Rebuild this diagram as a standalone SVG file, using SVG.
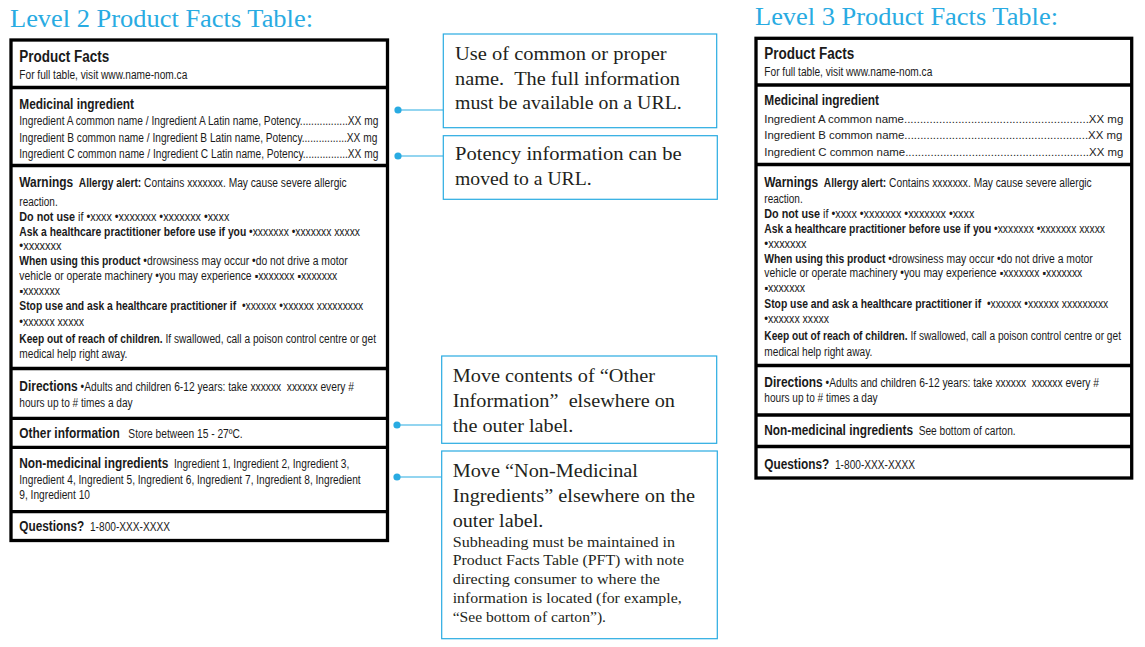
<svg xmlns="http://www.w3.org/2000/svg" width="1145" height="647" viewBox="0 0 1145 647">
  <style>
    .t { font-family: "Liberation Sans", Arial, sans-serif; font-size: 12px; fill: #1a1a1a; }
    .h { font-weight: bold; font-size: 14px; }
    .b { font-weight: bold; }
    .pf { font-weight: bold; font-size: 16px; }
    .ld { font-size: 11.5px; }
    .c { font-family: "Liberation Serif", "Times New Roman", serif; font-size: 19.5px; fill: #231f20; }
    .s { font-size: 15px; }
    .title { font-family: "Liberation Serif", "Times New Roman", serif; font-size: 26px; fill: #29abe2; }
    .frame { fill: #fff; stroke: #000; stroke-width: 3.3; }
    .rule { stroke: #000; stroke-width: 3.3; }
    .box { fill: #fff; stroke: #29abe2; stroke-width: 1.2; }
    .lead { stroke: #29abe2; stroke-width: 1.2; }
    .dot { fill: #29abe2; }
  </style>

  <rect width="1145" height="647" fill="#fff"/>

  <!-- Headings -->
  <text id="title-level2" class="title" x="10" y="26.7" textLength="303" lengthAdjust="spacingAndGlyphs">Level 2 Product Facts Table:</text>
  <text id="title-level3" class="title" x="755" y="25" textLength="303" lengthAdjust="spacingAndGlyphs">Level 3 Product Facts Table:</text>

  <!-- Level 2 product facts table -->
  <g id="table-level2">
    <rect class="frame" x="11" y="40" width="376.5" height="500.5"/>
    <line class="rule" x1="11" y1="87.5" x2="387.5" y2="87.5"/>
    <line class="rule" x1="11" y1="165.5" x2="387.5" y2="165.5"/>
    <line class="rule" x1="11" y1="368.5" x2="387.5" y2="368.5"/>
    <line class="rule" x1="11" y1="418.3" x2="387.5" y2="418.3"/>
    <line class="rule" x1="11" y1="447.3" x2="387.5" y2="447.3"/>
    <line class="rule" x1="11" y1="511.7" x2="387.5" y2="511.7"/>

    <g id="l2-header">
      <text class="t pf" x="19.3" y="61.7" textLength="90" lengthAdjust="spacingAndGlyphs">Product Facts</text>
      <text class="t" x="19.3" y="79" textLength="168" lengthAdjust="spacingAndGlyphs">For full table, visit www.name-nom.ca</text>
    </g>
    <g id="l2-medicinal">
      <text class="t h" x="19.3" y="109" textLength="114.7" lengthAdjust="spacingAndGlyphs">Medicinal ingredient</text>
      <text class="t" x="19.3" y="125" textLength="359" lengthAdjust="spacingAndGlyphs">Ingredient A common name / Ingredient A Latin name, Potency.................XX mg</text>
      <text class="t" x="19.3" y="141.7" textLength="358" lengthAdjust="spacingAndGlyphs">Ingredient B common name / Ingredient B Latin name, Potency................XX mg</text>
      <text class="t" x="19.3" y="158.3" textLength="359" lengthAdjust="spacingAndGlyphs">Ingredient C common name / Ingredient C Latin name, Potency................XX mg</text>
    </g>
    <g id="l2-warnings">
      <text class="t" x="19.3" y="187.3" textLength="327.4" lengthAdjust="spacingAndGlyphs"><tspan class="h">Warnings</tspan> &#160;<tspan class="b">Allergy alert:</tspan> Contains xxxxxxx. May cause severe allergic</text>
      <text class="t" x="19.3" y="205.7" textLength="38.4" lengthAdjust="spacingAndGlyphs">reaction.</text>
      <text class="t" x="19.3" y="221" textLength="210" lengthAdjust="spacingAndGlyphs"><tspan class="b">Do not use</tspan> if •xxxx •xxxxxxx •xxxxxxx •xxxx</text>
      <text class="t" x="19.3" y="236" textLength="340.7" lengthAdjust="spacingAndGlyphs"><tspan class="b">Ask a healthcare practitioner before use if you</tspan> •xxxxxxx •xxxxxxx xxxxx</text>
      <text class="t" x="19.3" y="250" textLength="42.3" lengthAdjust="spacingAndGlyphs">•xxxxxxx</text>
      <text class="t" x="19.3" y="265" textLength="328.4" lengthAdjust="spacingAndGlyphs"><tspan class="b">When using this product</tspan> •drowsiness may occur •do not drive a motor</text>
      <text class="t" x="19.3" y="280" textLength="318" lengthAdjust="spacingAndGlyphs">vehicle or operate machinery •you may experience ▪xxxxxxx ▪xxxxxxx</text>
      <text class="t" x="19.3" y="295" textLength="40.7" lengthAdjust="spacingAndGlyphs">▪xxxxxxx</text>
      <text class="t" x="19.3" y="310" textLength="344" lengthAdjust="spacingAndGlyphs"><tspan class="b">Stop use and ask a healthcare practitioner if</tspan> &#160;•xxxxxx •xxxxxx xxxxxxxxx</text>
      <text class="t" x="19.3" y="326" textLength="64.7" lengthAdjust="spacingAndGlyphs">•xxxxxx xxxxx</text>
      <text class="t" x="19.3" y="343.3" textLength="356.7" lengthAdjust="spacingAndGlyphs"><tspan class="b">Keep out of reach of children.</tspan> If swallowed, call a poison control centre or get</text>
      <text class="t" x="19.3" y="358.3" textLength="108" lengthAdjust="spacingAndGlyphs">medical help right away.</text>
    </g>
    <g id="l2-directions">
      <text class="t" x="19.3" y="390.7" textLength="334.7" lengthAdjust="spacingAndGlyphs"><tspan class="h">Directions</tspan> •Adults and children 6-12 years: take xxxxxx &#160;xxxxxx every #</text>
      <text class="t" x="19.3" y="407.3" textLength="113.3" lengthAdjust="spacingAndGlyphs">hours up to # times a day</text>
    </g>
    <g id="l2-other">
      <text class="t" x="19.3" y="437.7" textLength="223.4" lengthAdjust="spacingAndGlyphs"><tspan class="h">Other information</tspan> &#160;&#160;Store between 15 - 27ºC.</text>
    </g>
    <g id="l2-nonmedicinal">
      <text class="t" x="19.3" y="468.3" textLength="330" lengthAdjust="spacingAndGlyphs"><tspan class="h">Non-medicinal ingredients</tspan> &#160;Ingredient 1, Ingredient 2, Ingredient 3,</text>
      <text class="t" x="19.3" y="484" textLength="341.4" lengthAdjust="spacingAndGlyphs">Ingredient 4, Ingredient 5, Ingredient 6, Ingredient 7, Ingredient 8, Ingredient</text>
      <text class="t" x="19.3" y="499.3" textLength="70.7" lengthAdjust="spacingAndGlyphs">9, Ingredient 10</text>
    </g>
    <g id="l2-questions">
      <text class="t" x="19.3" y="530.7" textLength="150.7" lengthAdjust="spacingAndGlyphs"><tspan class="h">Questions?</tspan> &#160;1-800-XXX-XXXX</text>
    </g>
  </g>

  <!-- Level 3 product facts table -->
  <g id="table-level3">
    <rect class="frame" x="756" y="38.3" width="375.7" height="439.7"/>
    <line class="rule" x1="756" y1="85" x2="1131.7" y2="85"/>
    <line class="rule" x1="756" y1="164.5" x2="1131.7" y2="164.5"/>
    <line class="rule" x1="756" y1="365.5" x2="1131.7" y2="365.5"/>
    <line class="rule" x1="756" y1="415" x2="1131.7" y2="415"/>
    <line class="rule" x1="756" y1="446.5" x2="1131.7" y2="446.5"/>

    <g id="l3-header">
      <text class="t pf" x="764.3" y="59.3" textLength="90" lengthAdjust="spacingAndGlyphs">Product Facts</text>
      <text class="t" x="764.3" y="76" textLength="168" lengthAdjust="spacingAndGlyphs">For full table, visit www.name-nom.ca</text>
    </g>
    <g id="l3-medicinal">
      <text class="t h" x="764.3" y="105" textLength="114.7" lengthAdjust="spacingAndGlyphs">Medicinal ingredient</text>
      <text class="t ld" x="764.3" y="122.7" textLength="359" lengthAdjust="spacingAndGlyphs">Ingredient A common name..........................................................XX mg</text>
      <text class="t ld" x="764.3" y="139.3" textLength="358" lengthAdjust="spacingAndGlyphs">Ingredient B common name..........................................................XX mg</text>
      <text class="t ld" x="764.3" y="155.7" textLength="359" lengthAdjust="spacingAndGlyphs">Ingredient C common name..........................................................XX mg</text>
    </g>
    <g id="l3-warnings">
      <text class="t" x="764.3" y="186.7" textLength="327.4" lengthAdjust="spacingAndGlyphs"><tspan class="h">Warnings</tspan> &#160;<tspan class="b">Allergy alert:</tspan> Contains xxxxxxx. May cause severe allergic</text>
      <text class="t" x="764.3" y="203.3" textLength="38.4" lengthAdjust="spacingAndGlyphs">reaction.</text>
      <text class="t" x="764.3" y="218.3" textLength="210" lengthAdjust="spacingAndGlyphs"><tspan class="b">Do not use</tspan> if •xxxx •xxxxxxx •xxxxxxx •xxxx</text>
      <text class="t" x="764.3" y="233.3" textLength="340.7" lengthAdjust="spacingAndGlyphs"><tspan class="b">Ask a healthcare practitioner before use if you</tspan> •xxxxxxx •xxxxxxx xxxxx</text>
      <text class="t" x="764.3" y="247.7" textLength="42.3" lengthAdjust="spacingAndGlyphs">•xxxxxxx</text>
      <text class="t" x="764.3" y="262.7" textLength="328.4" lengthAdjust="spacingAndGlyphs"><tspan class="b">When using this product</tspan> •drowsiness may occur •do not drive a motor</text>
      <text class="t" x="764.3" y="277.3" textLength="318" lengthAdjust="spacingAndGlyphs">vehicle or operate machinery •you may experience ▪xxxxxxx ▪xxxxxxx</text>
      <text class="t" x="764.3" y="291.7" textLength="40.7" lengthAdjust="spacingAndGlyphs">▪xxxxxxx</text>
      <text class="t" x="764.3" y="307.7" textLength="344" lengthAdjust="spacingAndGlyphs"><tspan class="b">Stop use and ask a healthcare practitioner if</tspan> &#160;•xxxxxx •xxxxxx xxxxxxxxx</text>
      <text class="t" x="764.3" y="323.3" textLength="64.7" lengthAdjust="spacingAndGlyphs">•xxxxxx xxxxx</text>
      <text class="t" x="764.3" y="340" textLength="356.7" lengthAdjust="spacingAndGlyphs"><tspan class="b">Keep out of reach of children.</tspan> If swallowed, call a poison control centre or get</text>
      <text class="t" x="764.3" y="356" textLength="108" lengthAdjust="spacingAndGlyphs">medical help right away.</text>
    </g>
    <g id="l3-directions">
      <text class="t" x="764.3" y="386.7" textLength="334.7" lengthAdjust="spacingAndGlyphs"><tspan class="h">Directions</tspan> •Adults and children 6-12 years: take xxxxxx &#160;xxxxxx every #</text>
      <text class="t" x="764.3" y="402.3" textLength="113.3" lengthAdjust="spacingAndGlyphs">hours up to # times a day</text>
    </g>
    <g id="l3-nonmedicinal">
      <text class="t" x="764.3" y="435" textLength="251.4" lengthAdjust="spacingAndGlyphs"><tspan class="h">Non-medicinal ingredients</tspan> &#160;See bottom of carton.</text>
    </g>
    <g id="l3-questions">
      <text class="t" x="764.3" y="469" textLength="150.7" lengthAdjust="spacingAndGlyphs"><tspan class="h">Questions?</tspan> &#160;1-800-XXX-XXXX</text>
    </g>
  </g>

  <!-- Leader lines from table rows to the notes -->
  <g id="connectors">
    <line class="lead" x1="398" y1="110" x2="443.3" y2="110"/>
    <circle class="dot" cx="398" cy="110" r="3.6"/>
    <line class="lead" x1="398" y1="156" x2="443.3" y2="156"/>
    <circle class="dot" cx="398" cy="156" r="3.6"/>
    <line class="lead" x1="397" y1="425" x2="441.7" y2="425"/>
    <circle class="dot" cx="397" cy="425" r="3.6"/>
    <line class="lead" x1="397" y1="477" x2="441.7" y2="477"/>
    <circle class="dot" cx="397" cy="477" r="3.6"/>
  </g>

  <!-- Notes -->
  <g id="note-common-name">
    <rect class="box" x="443.3" y="34" width="273.4" height="93.7"/>
    <text class="c" x="455" y="60" textLength="211.7" lengthAdjust="spacingAndGlyphs">Use of common or proper</text>
    <text class="c" x="455" y="84.5" textLength="225" lengthAdjust="spacingAndGlyphs">name. &#160;The full information</text>
    <text class="c" x="455" y="109" textLength="226.7" lengthAdjust="spacingAndGlyphs">must be available on a URL.</text>
  </g>
  <g id="note-potency">
    <rect class="box" x="443.3" y="135.7" width="274" height="63.6"/>
    <text class="c" x="455" y="160" textLength="226.7" lengthAdjust="spacingAndGlyphs">Potency information can be</text>
    <text class="c" x="455" y="185" textLength="136.7" lengthAdjust="spacingAndGlyphs">moved to a URL.</text>
  </g>
  <g id="note-other-info">
    <rect class="box" x="441.7" y="356" width="275" height="87.3"/>
    <text class="c" x="452.7" y="381.7" textLength="202.3" lengthAdjust="spacingAndGlyphs">Move contents of “Other</text>
    <text class="c" x="452.7" y="406.7" textLength="222.3" lengthAdjust="spacingAndGlyphs">Information” &#160;elsewhere on</text>
    <text class="c" x="452.7" y="431.7" textLength="120.6" lengthAdjust="spacingAndGlyphs">the outer label.</text>
  </g>
  <g id="note-nonmedicinal">
    <rect class="box" x="441.7" y="451" width="275.6" height="187.7"/>
    <text class="c" x="452.7" y="476.7" textLength="185.3" lengthAdjust="spacingAndGlyphs">Move “Non-Medicinal</text>
    <text class="c" x="452.7" y="501.7" textLength="242.3" lengthAdjust="spacingAndGlyphs">Ingredients” elsewhere on the</text>
    <text class="c" x="452.7" y="526.7" textLength="90.6" lengthAdjust="spacingAndGlyphs">outer label.</text>
    <text class="c s" x="452.7" y="546.7" textLength="222.3" lengthAdjust="spacingAndGlyphs">Subheading must be maintained in</text>
    <text class="c s" x="452.7" y="565" textLength="231.3" lengthAdjust="spacingAndGlyphs">Product Facts Table (PFT) with note</text>
    <text class="c s" x="452.7" y="584" textLength="207.3" lengthAdjust="spacingAndGlyphs">directing consumer to where the</text>
    <text class="c s" x="452.7" y="603.3" textLength="229" lengthAdjust="spacingAndGlyphs">information is located (for example,</text>
    <text class="c s" x="452.7" y="621.7" textLength="153.3" lengthAdjust="spacingAndGlyphs">“See bottom of carton”).</text>
  </g>
</svg>
